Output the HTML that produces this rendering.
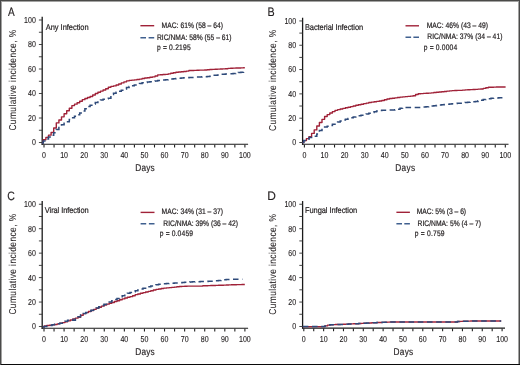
<!DOCTYPE html>
<html><head><meta charset="utf-8"><style>
html,body{margin:0;padding:0;background:#fff;width:520px;height:365px;overflow:hidden}
svg{display:block;will-change:transform;text-rendering:geometricPrecision}
</style></head><body>
<svg width="520" height="365" viewBox="0 0 520 365">
<rect x="0" y="0" width="520" height="365" fill="#ffffff"/>
<g font-family="Liberation Sans, sans-serif" fill="#231f20">
<path d="M42.2,16.80 V144.75" stroke="#1a1a1a" stroke-width="1.3" fill="none"/>
<path d="M41.55,144.30 H248.1" stroke="#1a1a1a" stroke-width="1.1" fill="none"/>
<path d="M38.90,142.50H42.20M38.90,130.25H42.20M38.90,118.00H42.20M38.90,105.75H42.20M38.90,93.50H42.20M38.90,81.25H42.20M38.90,69.00H42.20M38.90,56.75H42.20M38.90,44.50H42.20M38.90,32.25H42.20M38.90,20.00H42.20" stroke="#333" stroke-width="0.9" fill="none"/>
<path d="M44.00,144.70V147.50M54.05,144.70V147.50M64.09,144.70V147.50M74.13,144.70V147.50M84.18,144.70V147.50M94.22,144.70V147.50M104.27,144.70V147.50M114.31,144.70V147.50M124.36,144.70V147.50M134.41,144.70V147.50M144.45,144.70V147.50M154.50,144.70V147.50M164.54,144.70V147.50M174.58,144.70V147.50M184.63,144.70V147.50M194.67,144.70V147.50M204.72,144.70V147.50M214.76,144.70V147.50M224.81,144.70V147.50M234.85,144.70V147.50M244.90,144.70V147.50" stroke="#222" stroke-width="1.1" fill="none"/>
<text transform="translate(35.80,145.40) scale(0.82,1)" font-size="8.6" text-anchor="end" stroke="#231f20" stroke-width="0.12">0</text>
<text transform="translate(35.80,120.90) scale(0.82,1)" font-size="8.6" text-anchor="end" stroke="#231f20" stroke-width="0.12">20</text>
<text transform="translate(35.80,96.40) scale(0.82,1)" font-size="8.6" text-anchor="end" stroke="#231f20" stroke-width="0.12">40</text>
<text transform="translate(35.80,71.90) scale(0.82,1)" font-size="8.6" text-anchor="end" stroke="#231f20" stroke-width="0.12">60</text>
<text transform="translate(35.80,47.40) scale(0.82,1)" font-size="8.6" text-anchor="end" stroke="#231f20" stroke-width="0.12">80</text>
<text transform="translate(35.80,22.90) scale(0.82,1)" font-size="8.6" text-anchor="end" stroke="#231f20" stroke-width="0.12">100</text>
<text transform="translate(44.00,158.00) scale(0.82,1)" font-size="8.6" text-anchor="middle" stroke="#231f20" stroke-width="0.12">0</text>
<text transform="translate(64.09,158.00) scale(0.82,1)" font-size="8.6" text-anchor="middle" stroke="#231f20" stroke-width="0.12">10</text>
<text transform="translate(84.18,158.00) scale(0.82,1)" font-size="8.6" text-anchor="middle" stroke="#231f20" stroke-width="0.12">20</text>
<text transform="translate(104.27,158.00) scale(0.82,1)" font-size="8.6" text-anchor="middle" stroke="#231f20" stroke-width="0.12">30</text>
<text transform="translate(124.36,158.00) scale(0.82,1)" font-size="8.6" text-anchor="middle" stroke="#231f20" stroke-width="0.12">40</text>
<text transform="translate(144.45,158.00) scale(0.82,1)" font-size="8.6" text-anchor="middle" stroke="#231f20" stroke-width="0.12">50</text>
<text transform="translate(164.54,158.00) scale(0.82,1)" font-size="8.6" text-anchor="middle" stroke="#231f20" stroke-width="0.12">60</text>
<text transform="translate(184.63,158.00) scale(0.82,1)" font-size="8.6" text-anchor="middle" stroke="#231f20" stroke-width="0.12">70</text>
<text transform="translate(204.72,158.00) scale(0.82,1)" font-size="8.6" text-anchor="middle" stroke="#231f20" stroke-width="0.12">80</text>
<text transform="translate(224.81,158.00) scale(0.82,1)" font-size="8.6" text-anchor="middle" stroke="#231f20" stroke-width="0.12">90</text>
<text transform="translate(244.90,158.00) scale(0.82,1)" font-size="8.6" text-anchor="middle" stroke="#231f20" stroke-width="0.12">100</text>
<path d="M302.6,17.74 V144.75" stroke="#1a1a1a" stroke-width="1.3" fill="none"/>
<path d="M301.95,144.30 H508.5" stroke="#1a1a1a" stroke-width="1.1" fill="none"/>
<path d="M299.30,142.50H302.60M299.30,130.34H302.60M299.30,118.19H302.60M299.30,106.03H302.60M299.30,93.88H302.60M299.30,81.72H302.60M299.30,69.56H302.60M299.30,57.41H302.60M299.30,45.25H302.60M299.30,33.10H302.60M299.30,20.94H302.60" stroke="#333" stroke-width="0.9" fill="none"/>
<path d="M304.40,144.70V147.50M314.44,144.70V147.50M324.49,144.70V147.50M334.53,144.70V147.50M344.58,144.70V147.50M354.62,144.70V147.50M364.67,144.70V147.50M374.71,144.70V147.50M384.76,144.70V147.50M394.80,144.70V147.50M404.85,144.70V147.50M414.89,144.70V147.50M424.94,144.70V147.50M434.98,144.70V147.50M445.03,144.70V147.50M455.07,144.70V147.50M465.12,144.70V147.50M475.16,144.70V147.50M485.21,144.70V147.50M495.25,144.70V147.50M505.30,144.70V147.50" stroke="#222" stroke-width="1.1" fill="none"/>
<text transform="translate(296.20,145.40) scale(0.82,1)" font-size="8.6" text-anchor="end" stroke="#231f20" stroke-width="0.12">0</text>
<text transform="translate(296.20,121.09) scale(0.82,1)" font-size="8.6" text-anchor="end" stroke="#231f20" stroke-width="0.12">20</text>
<text transform="translate(296.20,96.78) scale(0.82,1)" font-size="8.6" text-anchor="end" stroke="#231f20" stroke-width="0.12">40</text>
<text transform="translate(296.20,72.46) scale(0.82,1)" font-size="8.6" text-anchor="end" stroke="#231f20" stroke-width="0.12">60</text>
<text transform="translate(296.20,48.15) scale(0.82,1)" font-size="8.6" text-anchor="end" stroke="#231f20" stroke-width="0.12">80</text>
<text transform="translate(296.20,23.84) scale(0.82,1)" font-size="8.6" text-anchor="end" stroke="#231f20" stroke-width="0.12">100</text>
<text transform="translate(304.40,158.00) scale(0.82,1)" font-size="8.6" text-anchor="middle" stroke="#231f20" stroke-width="0.12">0</text>
<text transform="translate(324.49,158.00) scale(0.82,1)" font-size="8.6" text-anchor="middle" stroke="#231f20" stroke-width="0.12">10</text>
<text transform="translate(344.58,158.00) scale(0.82,1)" font-size="8.6" text-anchor="middle" stroke="#231f20" stroke-width="0.12">20</text>
<text transform="translate(364.67,158.00) scale(0.82,1)" font-size="8.6" text-anchor="middle" stroke="#231f20" stroke-width="0.12">30</text>
<text transform="translate(384.76,158.00) scale(0.82,1)" font-size="8.6" text-anchor="middle" stroke="#231f20" stroke-width="0.12">40</text>
<text transform="translate(404.85,158.00) scale(0.82,1)" font-size="8.6" text-anchor="middle" stroke="#231f20" stroke-width="0.12">50</text>
<text transform="translate(424.94,158.00) scale(0.82,1)" font-size="8.6" text-anchor="middle" stroke="#231f20" stroke-width="0.12">60</text>
<text transform="translate(445.03,158.00) scale(0.82,1)" font-size="8.6" text-anchor="middle" stroke="#231f20" stroke-width="0.12">70</text>
<text transform="translate(465.12,158.00) scale(0.82,1)" font-size="8.6" text-anchor="middle" stroke="#231f20" stroke-width="0.12">80</text>
<text transform="translate(485.21,158.00) scale(0.82,1)" font-size="8.6" text-anchor="middle" stroke="#231f20" stroke-width="0.12">90</text>
<text transform="translate(505.30,158.00) scale(0.82,1)" font-size="8.6" text-anchor="middle" stroke="#231f20" stroke-width="0.12">100</text>
<path d="M42.2,201.05 V328.75" stroke="#1a1a1a" stroke-width="1.3" fill="none"/>
<path d="M41.55,328.30 H248.1" stroke="#1a1a1a" stroke-width="1.1" fill="none"/>
<path d="M38.90,326.50H42.20M38.90,314.27H42.20M38.90,302.05H42.20M38.90,289.82H42.20M38.90,277.60H42.20M38.90,265.38H42.20M38.90,253.15H42.20M38.90,240.93H42.20M38.90,228.70H42.20M38.90,216.48H42.20M38.90,204.25H42.20" stroke="#333" stroke-width="0.9" fill="none"/>
<path d="M44.00,328.70V331.50M54.05,328.70V331.50M64.09,328.70V331.50M74.13,328.70V331.50M84.18,328.70V331.50M94.22,328.70V331.50M104.27,328.70V331.50M114.31,328.70V331.50M124.36,328.70V331.50M134.41,328.70V331.50M144.45,328.70V331.50M154.50,328.70V331.50M164.54,328.70V331.50M174.58,328.70V331.50M184.63,328.70V331.50M194.67,328.70V331.50M204.72,328.70V331.50M214.76,328.70V331.50M224.81,328.70V331.50M234.85,328.70V331.50M244.90,328.70V331.50" stroke="#222" stroke-width="1.1" fill="none"/>
<text transform="translate(35.80,329.40) scale(0.82,1)" font-size="8.6" text-anchor="end" stroke="#231f20" stroke-width="0.12">0</text>
<text transform="translate(35.80,304.95) scale(0.82,1)" font-size="8.6" text-anchor="end" stroke="#231f20" stroke-width="0.12">20</text>
<text transform="translate(35.80,280.50) scale(0.82,1)" font-size="8.6" text-anchor="end" stroke="#231f20" stroke-width="0.12">40</text>
<text transform="translate(35.80,256.05) scale(0.82,1)" font-size="8.6" text-anchor="end" stroke="#231f20" stroke-width="0.12">60</text>
<text transform="translate(35.80,231.60) scale(0.82,1)" font-size="8.6" text-anchor="end" stroke="#231f20" stroke-width="0.12">80</text>
<text transform="translate(35.80,207.15) scale(0.82,1)" font-size="8.6" text-anchor="end" stroke="#231f20" stroke-width="0.12">100</text>
<text transform="translate(44.00,342.00) scale(0.82,1)" font-size="8.6" text-anchor="middle" stroke="#231f20" stroke-width="0.12">0</text>
<text transform="translate(64.09,342.00) scale(0.82,1)" font-size="8.6" text-anchor="middle" stroke="#231f20" stroke-width="0.12">10</text>
<text transform="translate(84.18,342.00) scale(0.82,1)" font-size="8.6" text-anchor="middle" stroke="#231f20" stroke-width="0.12">20</text>
<text transform="translate(104.27,342.00) scale(0.82,1)" font-size="8.6" text-anchor="middle" stroke="#231f20" stroke-width="0.12">30</text>
<text transform="translate(124.36,342.00) scale(0.82,1)" font-size="8.6" text-anchor="middle" stroke="#231f20" stroke-width="0.12">40</text>
<text transform="translate(144.45,342.00) scale(0.82,1)" font-size="8.6" text-anchor="middle" stroke="#231f20" stroke-width="0.12">50</text>
<text transform="translate(164.54,342.00) scale(0.82,1)" font-size="8.6" text-anchor="middle" stroke="#231f20" stroke-width="0.12">60</text>
<text transform="translate(184.63,342.00) scale(0.82,1)" font-size="8.6" text-anchor="middle" stroke="#231f20" stroke-width="0.12">70</text>
<text transform="translate(204.72,342.00) scale(0.82,1)" font-size="8.6" text-anchor="middle" stroke="#231f20" stroke-width="0.12">80</text>
<text transform="translate(224.81,342.00) scale(0.82,1)" font-size="8.6" text-anchor="middle" stroke="#231f20" stroke-width="0.12">90</text>
<text transform="translate(244.90,342.00) scale(0.82,1)" font-size="8.6" text-anchor="middle" stroke="#231f20" stroke-width="0.12">100</text>
<path d="M302.6,201.05 V328.55" stroke="#1a1a1a" stroke-width="1.3" fill="none"/>
<path d="M301.95,328.10 H505.0" stroke="#1a1a1a" stroke-width="1.1" fill="none"/>
<path d="M299.30,326.50H302.60M299.30,314.27H302.60M299.30,302.05H302.60M299.30,289.82H302.60M299.30,277.60H302.60M299.30,265.38H302.60M299.30,253.15H302.60M299.30,240.93H302.60M299.30,228.70H302.60M299.30,216.48H302.60M299.30,204.25H302.60" stroke="#333" stroke-width="0.9" fill="none"/>
<path d="M303.80,328.50V331.30M313.72,328.50V331.30M323.63,328.50V331.30M333.55,328.50V331.30M343.46,328.50V331.30M353.38,328.50V331.30M363.29,328.50V331.30M373.21,328.50V331.30M383.12,328.50V331.30M393.04,328.50V331.30M402.95,328.50V331.30M412.87,328.50V331.30M422.78,328.50V331.30M432.70,328.50V331.30M442.61,328.50V331.30M452.52,328.50V331.30M462.44,328.50V331.30M472.36,328.50V331.30M482.27,328.50V331.30M492.19,328.50V331.30M502.10,328.50V331.30" stroke="#222" stroke-width="1.1" fill="none"/>
<text transform="translate(296.20,329.40) scale(0.82,1)" font-size="8.6" text-anchor="end" stroke="#231f20" stroke-width="0.12">0</text>
<text transform="translate(296.20,304.95) scale(0.82,1)" font-size="8.6" text-anchor="end" stroke="#231f20" stroke-width="0.12">20</text>
<text transform="translate(296.20,280.50) scale(0.82,1)" font-size="8.6" text-anchor="end" stroke="#231f20" stroke-width="0.12">40</text>
<text transform="translate(296.20,256.05) scale(0.82,1)" font-size="8.6" text-anchor="end" stroke="#231f20" stroke-width="0.12">60</text>
<text transform="translate(296.20,231.60) scale(0.82,1)" font-size="8.6" text-anchor="end" stroke="#231f20" stroke-width="0.12">80</text>
<text transform="translate(296.20,207.15) scale(0.82,1)" font-size="8.6" text-anchor="end" stroke="#231f20" stroke-width="0.12">100</text>
<text transform="translate(303.80,341.80) scale(0.82,1)" font-size="8.6" text-anchor="middle" stroke="#231f20" stroke-width="0.12">0</text>
<text transform="translate(323.63,341.80) scale(0.82,1)" font-size="8.6" text-anchor="middle" stroke="#231f20" stroke-width="0.12">10</text>
<text transform="translate(343.46,341.80) scale(0.82,1)" font-size="8.6" text-anchor="middle" stroke="#231f20" stroke-width="0.12">20</text>
<text transform="translate(363.29,341.80) scale(0.82,1)" font-size="8.6" text-anchor="middle" stroke="#231f20" stroke-width="0.12">30</text>
<text transform="translate(383.12,341.80) scale(0.82,1)" font-size="8.6" text-anchor="middle" stroke="#231f20" stroke-width="0.12">40</text>
<text transform="translate(402.95,341.80) scale(0.82,1)" font-size="8.6" text-anchor="middle" stroke="#231f20" stroke-width="0.12">50</text>
<text transform="translate(422.78,341.80) scale(0.82,1)" font-size="8.6" text-anchor="middle" stroke="#231f20" stroke-width="0.12">60</text>
<text transform="translate(442.61,341.80) scale(0.82,1)" font-size="8.6" text-anchor="middle" stroke="#231f20" stroke-width="0.12">70</text>
<text transform="translate(462.44,341.80) scale(0.82,1)" font-size="8.6" text-anchor="middle" stroke="#231f20" stroke-width="0.12">80</text>
<text transform="translate(482.27,341.80) scale(0.82,1)" font-size="8.6" text-anchor="middle" stroke="#231f20" stroke-width="0.12">90</text>
<text transform="translate(502.10,341.80) scale(0.82,1)" font-size="8.6" text-anchor="middle" stroke="#231f20" stroke-width="0.12">100</text>
<text transform="translate(8.0,15.8) scale(0.82,1)" font-size="12.2" stroke="#231f20" stroke-width="0.15">A</text>
<text transform="translate(267.4,16.0) scale(0.88,1)" font-size="12.2" stroke="#231f20" stroke-width="0.15">B</text>
<text transform="translate(7.3,199.9) scale(0.86,1)" font-size="12.2" stroke="#231f20" stroke-width="0.15">C</text>
<text transform="translate(267.3,200.0) scale(0.98,1)" font-size="12.2" stroke="#231f20" stroke-width="0.15">D</text>
<text transform="translate(16.0,130.6) rotate(-90) scale(0.84,1)" x="0" y="0" font-size="10" textLength="119.9" lengthAdjust="spacing" stroke="#231f20" stroke-width="0.05">Cumulative incidence, %</text>
<text transform="translate(276.4,131.0) rotate(-90) scale(0.84,1)" x="0" y="0" font-size="10" textLength="120.4" lengthAdjust="spacing" stroke="#231f20" stroke-width="0.05">Cumulative incidence, %</text>
<text transform="translate(16.0,314.6) rotate(-90) scale(0.84,1)" x="0" y="0" font-size="10" textLength="119.9" lengthAdjust="spacing" stroke="#231f20" stroke-width="0.05">Cumulative incidence, %</text>
<text transform="translate(276.4,314.8) rotate(-90) scale(0.84,1)" x="0" y="0" font-size="10" textLength="120.1" lengthAdjust="spacing" stroke="#231f20" stroke-width="0.05">Cumulative incidence, %</text>
<text transform="translate(135.3,170.8) scale(0.84,1)" font-size="9.9" textLength="23.10" lengthAdjust="spacing" stroke="#231f20" stroke-width="0.15">Days</text>
<text transform="translate(395.3,170.8) scale(0.84,1)" font-size="9.9" textLength="23.57" lengthAdjust="spacing" stroke="#231f20" stroke-width="0.15">Days</text>
<text transform="translate(135.3,354.8) scale(0.84,1)" font-size="9.9" textLength="23.10" lengthAdjust="spacing" stroke="#231f20" stroke-width="0.15">Days</text>
<text transform="translate(393.6,354.8) scale(0.84,1)" font-size="9.9" textLength="23.33" lengthAdjust="spacing" stroke="#231f20" stroke-width="0.15">Days</text>
<text transform="translate(45.75,29.5) scale(0.9,1)" font-size="8.3" textLength="47.67" lengthAdjust="spacing" stroke="#231f20" stroke-width="0.2">Any Infection</text>
<text transform="translate(304.9,30.0) scale(0.9,1)" font-size="8.3" textLength="64.78" lengthAdjust="spacing" stroke="#231f20" stroke-width="0.2">Bacterial Infection</text>
<text transform="translate(44.85,213.0) scale(0.9,1)" font-size="8.3" textLength="48.67" lengthAdjust="spacing" stroke="#231f20" stroke-width="0.2">Viral Infection</text>
<text transform="translate(305.0,213.0) scale(0.9,1)" font-size="8.3" textLength="58.00" lengthAdjust="spacing" stroke="#231f20" stroke-width="0.2">Fungal Infection</text>
<path d="M140.4,25.7H154.2" stroke="#a02238" stroke-width="1.4" fill="none"/>
<path d="M140.4,37.7H146.0M148.6,37.7H154.2" stroke="#40608f" stroke-width="1.4" fill="none"/>
<text transform="translate(161.6,28.2) scale(0.84,1)" font-size="8.0" textLength="73.10" lengthAdjust="spacing" stroke="#231f20" stroke-width="0.22">MAC: 61% (58 – 64)</text>
<text transform="translate(156.9,39.5) scale(0.84,1)" font-size="8.0" textLength="88.93" lengthAdjust="spacing" stroke="#231f20" stroke-width="0.22">RIC/NMA: 58% (55 – 61)</text>
<text transform="translate(156.9,49.7) scale(0.84,1)" font-size="8.0" textLength="40.24" lengthAdjust="spacing" stroke="#231f20" stroke-width="0.22">p = 0.2195</text>
<path d="M405.5,25.8H419.0" stroke="#a02238" stroke-width="1.4" fill="none"/>
<path d="M405.5,37.2H411.1M413.4,37.2H419.0" stroke="#40608f" stroke-width="1.4" fill="none"/>
<text transform="translate(426.7,28.0) scale(0.84,1)" font-size="8.0" textLength="72.98" lengthAdjust="spacing" stroke="#231f20" stroke-width="0.22">MAC: 46% (43 – 49)</text>
<text transform="translate(427.3,39.3) scale(0.84,1)" font-size="8.0" textLength="89.40" lengthAdjust="spacing" stroke="#231f20" stroke-width="0.22">RIC/NMA: 37% (34 – 41)</text>
<text transform="translate(423.8,49.7) scale(0.84,1)" font-size="8.0" textLength="39.76" lengthAdjust="spacing" stroke="#231f20" stroke-width="0.22">p = 0.0004</text>
<path d="M140.6,212.4H154.5" stroke="#a02238" stroke-width="1.4" fill="none"/>
<path d="M140.6,223.7H146.2M148.9,223.7H154.5" stroke="#40608f" stroke-width="1.4" fill="none"/>
<text transform="translate(161.6,214.1) scale(0.84,1)" font-size="8.0" textLength="73.10" lengthAdjust="spacing" stroke="#231f20" stroke-width="0.22">MAC: 34% (31 – 37)</text>
<text transform="translate(163.3,226.0) scale(0.84,1)" font-size="8.0" textLength="88.93" lengthAdjust="spacing" stroke="#231f20" stroke-width="0.22">RIC/NMA: 39% (36 – 42)</text>
<text transform="translate(159.8,236.2) scale(0.84,1)" font-size="8.0" textLength="39.52" lengthAdjust="spacing" stroke="#231f20" stroke-width="0.22">p = 0.0459</text>
<path d="M396.4,212.3H409.9" stroke="#a02238" stroke-width="1.4" fill="none"/>
<path d="M396.4,223.7H402.0M404.3,223.7H409.9" stroke="#40608f" stroke-width="1.4" fill="none"/>
<text transform="translate(416.8,214.1) scale(0.84,1)" font-size="8.0" textLength="58.69" lengthAdjust="spacing" stroke="#231f20" stroke-width="0.22">MAC: 5% (3 – 6)</text>
<text transform="translate(417.6,226.0) scale(0.84,1)" font-size="8.0" textLength="75.60" lengthAdjust="spacing" stroke="#231f20" stroke-width="0.22">RIC/NMA: 5% (4 – 7)</text>
<text transform="translate(414.7,236.2) scale(0.84,1)" font-size="8.0" textLength="35.60" lengthAdjust="spacing" stroke="#231f20" stroke-width="0.22">p = 0.759</text>
</g>
<path d="M42.00,143.00H43.30V139.79H45.90V137.37H48.50V135.13H51.10V132.52H53.70V128.07H56.30V122.89H58.90V120.00H61.50V116.86H64.10V113.68H66.70V110.80H69.30V108.20H71.90V105.60H74.50V104.13H77.10V102.81H79.70V101.26H82.30V99.66H84.90V98.47H87.50V97.52H90.10V96.54H92.70V95.03H95.30V93.51H97.90V92.20H100.50V91.10H103.10V90.01H105.70V88.68H108.30V87.29H110.90V86.41H113.50V85.90H116.10V84.97H118.70V83.94H121.30V82.92H123.90V81.91H126.50V80.91H129.10V80.42H131.70V80.15H134.30V79.85H136.90V79.55H139.50V79.10H142.10V78.49H144.70V78.05H147.30V77.69H149.90V77.29H152.50V76.84H155.10V75.96H157.70V74.88H160.30V74.68H162.90V74.55H165.50V74.42H168.10V73.86H170.70V73.18H173.30V72.68H175.90V72.31H178.50V71.93H181.10V71.69H183.70V71.47H186.30V71.09H188.90V70.56H191.50V70.45H194.10V70.33H196.70V70.22H199.30V70.15H201.90V70.09H204.50V70.03H207.10V69.76H209.70V69.44H212.30V69.34H214.90V69.24H217.50V69.13H220.10V69.03H222.70V68.92H225.30V68.69H227.90V68.42H230.50V68.25H233.10V68.16H235.70V68.07H238.30V67.98H240.90V67.89H243.50V67.80H244.80" stroke="#a02238" stroke-width="1.4" fill="none" stroke-linejoin="round"/>
<path d="M42.00,143.00H43.30V141.01H45.90V139.03H48.50V137.09H51.10V135.15H53.70V132.65H56.30V129.44H58.90V126.46H61.50V124.65H64.10V123.35H66.70V121.80H69.30V119.58H71.90V117.70H74.50V116.27H77.10V114.83H79.70V112.93H82.30V110.96H84.90V108.69H87.50V106.50H90.10V105.23H92.70V103.95H95.30V102.62H97.90V101.30H100.50V100.00H103.10V99.14H105.70V98.65H108.30V98.21H110.90V94.41H113.50V93.37H116.10V92.32H118.70V91.23H121.30V90.14H123.90V88.90H126.50V87.60H129.10V86.53H131.70V85.74H134.30V84.95H136.90V84.22H139.50V83.51H142.10V82.84H144.70V82.47H147.30V82.10H149.90V81.71H152.50V81.29H155.10V80.88H157.70V80.59H160.30V80.32H162.90V80.06H165.50V79.79H168.10V79.40H170.70V79.02H173.30V78.66H175.90V78.40H178.50V78.15H181.10V77.90H183.70V77.77H186.30V77.64H188.90V77.51H191.50V77.38H194.10V77.25H196.70V77.12H199.30V76.99H201.90V76.84H204.50V76.70H207.10V76.60H209.70V76.17H212.30V75.30H217.50V74.93H220.10V74.20H225.30V74.03H227.90V73.80H233.10V73.61H235.70V72.79H238.30V72.43H240.90V72.16H243.50V72.00H244.80" stroke="#2e4a7a" stroke-width="1.5" fill="none" stroke-dasharray="5.6 3.6"/>
<path d="M302.50,142.50H303.80V140.62H306.40V138.65H309.00V136.58H311.60V133.41H314.20V129.91H316.80V126.05H319.40V122.57H322.00V119.34H324.60V116.56H327.20V114.60H329.80V113.03H332.40V111.60H335.00V110.35H337.60V109.67H340.20V109.00H342.80V108.40H345.40V107.82H348.00V107.23H350.60V106.61H353.20V105.96H355.80V105.32H358.40V104.76H361.00V104.21H363.60V103.66H366.20V103.11H368.80V102.56H371.40V102.16H374.00V101.78H376.60V101.39H379.20V101.01H381.80V100.47H384.40V99.76H387.00V99.05H389.60V98.53H392.20V98.18H394.80V97.83H397.40V97.49H400.00V97.14H402.60V96.83H405.20V96.61H407.80V96.39H410.40V96.17H413.00V95.72H415.60V94.53H418.20V93.74H420.80V93.58H423.40V93.42H426.00V93.26H428.60V93.11H431.20V92.84H433.80V92.57H436.40V92.29H439.00V92.02H441.60V91.73H444.20V91.44H446.80V91.15H449.40V90.86H452.00V90.59H454.60V90.50H457.20V90.42H459.80V90.33H462.40V90.13H465.00V89.87H467.60V89.73H470.20V89.63H472.80V89.53H475.40V89.37H478.00V89.16H480.60V88.96H483.20V88.42H485.80V87.77H488.40V87.28H491.00V87.19H493.60V87.10H496.20V87.01H505.60" stroke="#a02238" stroke-width="1.4" fill="none" stroke-linejoin="round"/>
<path d="M302.50,142.50H303.80V140.49H306.40V139.17H309.00V137.49H311.60V136.35H314.20V136.25H316.80V134.05H319.40V130.53H322.00V128.35H324.60V127.08H327.20V126.30H329.80V125.46H332.40V124.27H335.00V123.08H337.60V121.99H340.20V120.95H342.80V119.99H345.40V119.19H348.00V118.39H350.60V117.69H353.20V117.03H355.80V116.40H358.40V115.79H361.00V115.17H363.60V114.55H366.20V113.94H368.80V113.24H371.40V112.49H374.00V111.75H376.60V111.00H379.20V110.38H381.80V110.29H384.40V110.20H387.00V110.11H389.60V110.02H392.20V109.93H394.80V109.84H397.40V109.24H400.00V108.21H402.60V107.50H423.40V107.12H426.00V106.72H428.60V106.31H431.20V105.93H433.80V105.63H436.40V105.34H439.00V105.04H441.60V104.75H444.20V104.46H446.80V104.17H449.40V103.89H452.00V103.68H454.60V103.50H457.20V103.31H459.80V103.13H462.40V102.86H465.00V102.56H467.60V102.26H470.20V101.97H472.80V101.68H475.40V101.39H478.00V100.83H480.60V100.16H483.20V99.60H485.80V99.18H488.40V98.76H491.00V98.37H493.60V98.19H496.20V98.01H498.80V97.83H501.40V97.63H504.00V97.42H505.60" stroke="#2e4a7a" stroke-width="1.5" fill="none" stroke-dasharray="5.6 3.6"/>
<path d="M42.90,327.10H44.20V325.93H46.80V325.51H49.40V325.19H52.00V324.86H54.60V324.48H57.20V323.86H59.80V323.23H62.40V322.61H65.00V321.83H67.60V320.88H70.20V319.93H72.80V318.98H75.40V318.13H78.00V317.30H80.60V315.24H83.20V313.59H85.80V312.62H88.40V311.52H91.00V310.43H93.60V309.34H96.20V308.27H98.80V307.19H101.40V306.13H104.00V305.08H106.60V304.14H109.20V303.29H111.80V302.43H114.40V301.57H117.00V300.70H119.60V299.82H122.20V298.88H124.80V297.94H127.40V297.29H130.00V296.65H132.60V295.70H135.20V294.66H137.80V293.96H140.40V293.32H143.00V292.67H145.60V292.00H148.20V291.33H150.80V290.68H153.40V290.04H156.00V289.40H158.60V288.95H161.20V288.53H163.80V288.15H166.40V287.90H169.00V287.64H171.60V287.39H174.20V287.11H176.80V286.82H179.40V286.53H182.00V286.35H184.60V286.25H187.20V286.16H189.80V286.08H202.80V285.81H205.40V285.72H208.00V285.63H210.60V285.54H213.20V285.45H215.80V285.36H218.40V285.27H221.00V285.18H223.60V285.09H226.20V285.00H228.80V284.91H231.40V284.82H234.00V284.73H236.60V284.66H239.20V284.60H241.80V284.54H244.80" stroke="#a02238" stroke-width="1.4" fill="none" stroke-linejoin="round"/>
<path d="M42.90,327.10H44.20V326.53H46.80V325.95H49.40V325.38H52.00V324.85H54.60V324.34H57.20V323.83H59.80V323.32H62.40V322.28H65.00V321.23H67.60V320.17H70.20V319.58H72.80V320.27H75.40V318.76H78.00V316.74H80.60V314.71H83.20V313.48H85.80V312.39H88.40V311.29H91.00V310.20H93.60V309.11H96.20V308.00H98.80V306.70H101.40V305.40H104.00V304.31H106.60V303.26H109.20V302.05H111.80V300.75H114.40V299.56H117.00V298.53H119.60V297.40H122.20V295.83H124.80V294.26H127.40V293.37H130.00V292.50H132.60V291.64H135.20V290.79H137.80V289.93H140.40V289.08H143.00V288.22H145.60V287.40H148.20V286.64H150.80V285.89H153.40V285.30H156.00V284.82H158.60V284.34H161.20V284.00H163.80V283.81H166.40V283.61H169.00V283.43H171.60V283.27H174.20V283.11H176.80V282.94H179.40V282.75H182.00V282.56H184.60V282.36H187.20V282.17H189.80V281.98H192.40V281.80H195.00V281.73H197.60V281.67H200.20V281.60H202.80V281.51H205.40V281.42H208.00V281.33H210.60V281.14H213.20V280.90H215.80V280.66H218.40V280.39H221.00V280.07H223.60V279.75H226.20V279.49H228.80V279.43H231.40V279.37H234.00V279.31H242.50" stroke="#2e4a7a" stroke-width="1.5" fill="none" stroke-dasharray="5.6 3.6"/>
<path d="M302.80,326.60H324.90V325.92H327.50V325.11H330.10V324.83H332.70V324.65H335.30V324.56H337.90V324.47H340.50V324.38H343.10V324.29H345.70V324.17H348.30V324.05H350.90V323.92H353.50V323.80H356.10V323.68H358.70V323.56H361.30V323.42H363.90V323.27H366.50V323.12H369.10V322.97H371.70V322.82H374.30V322.68H376.90V322.57H379.50V322.47H382.10V322.36H384.70V322.26H387.30V322.16H389.90V322.05H392.50V321.95H457.50V321.44H460.10V321.36H462.70V321.29H465.30V321.22H467.90V321.15H470.50V321.07H473.10V321.00H475.70V320.93H501.20" stroke="#a02238" stroke-width="1.4" fill="none" stroke-linejoin="round"/>
<path d="M302.80,326.60H324.90V325.92H327.50V325.11H330.10V324.83H332.70V324.65H335.30V324.56H337.90V324.47H340.50V324.38H343.10V324.29H345.70V324.17H348.30V324.05H350.90V323.92H353.50V323.80H356.10V323.68H358.70V323.56H361.30V323.42H363.90V323.27H366.50V323.12H369.10V322.97H371.70V322.82H374.30V322.68H376.90V322.57H379.50V322.47H382.10V322.36H384.70V322.26H387.30V322.16H389.90V322.05H392.50V321.95H457.50V321.44H460.10V321.36H462.70V321.29H465.30V321.22H467.90V321.15H470.50V321.07H473.10V321.00H475.70V320.93H501.20" stroke="#2e4a7a" stroke-width="1.5" fill="none" stroke-dasharray="5.6 3.6"/>
<g shape-rendering="crispEdges">
<rect x="1" y="1" width="518" height="1" fill="#a3a3a2"/>
<rect x="1" y="1" width="1" height="363" fill="#a3a3a2"/>
<rect x="518" y="1" width="1" height="363" fill="#a3a3a2"/>
<rect x="0" y="0" width="520" height="1" fill="#4a4a48"/>
<rect x="0" y="0" width="1" height="365" fill="#4a4a4a"/>
<rect x="519" y="0" width="1" height="365" fill="#4a4a4a"/>
<rect x="1" y="364" width="519" height="1" fill="#0a0a0a"/>
</g>
</svg>
</body></html>
